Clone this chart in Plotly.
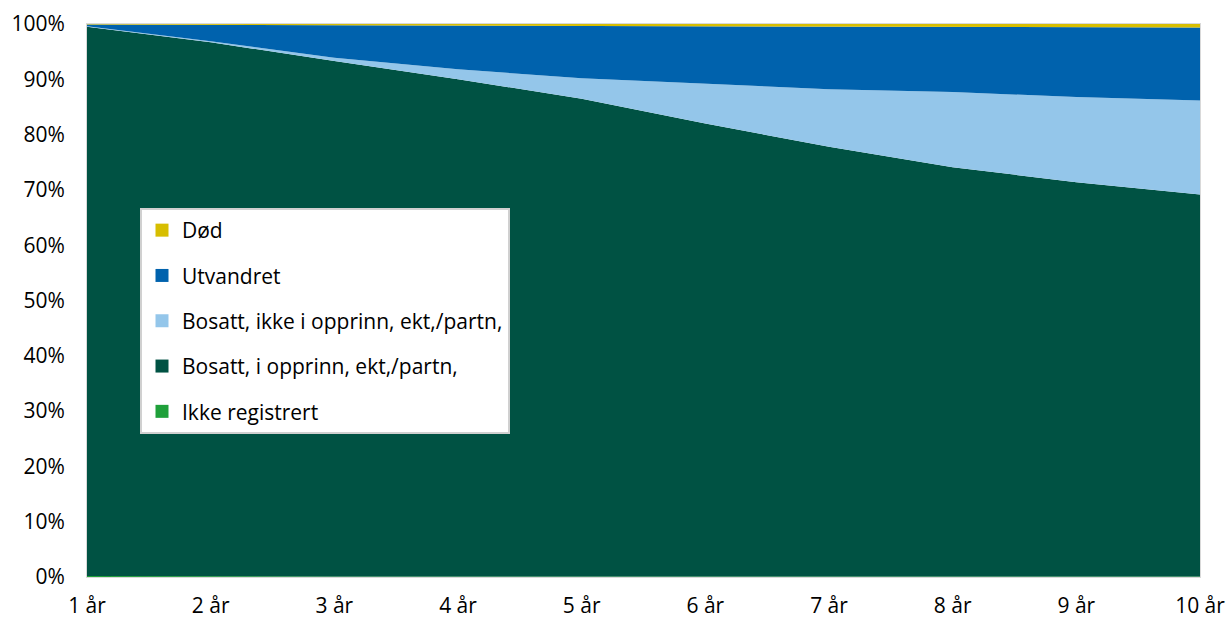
import plotly.graph_objects as go

categories = ["1 år", "2 år", "3 år", "4 år", "5 år", "6 år", "7 år", "8 år", "9 år", "10 år"]
ikke_registrert = [0.2, 0.1, 0.1, 0.1, 0.1, 0.1, 0.1, 0.1, 0.1, 0.1]
bosatt_i = [99.3, 96.6, 93.2, 89.9, 86.4, 81.9, 77.7, 74.0, 71.3, 69.0]
bosatt_ikke = [0.1, 0.2, 0.6, 1.8, 3.7, 7.2, 10.4, 13.6, 15.4, 17.0]
utvandret = [0.3, 2.95, 5.9, 7.95, 9.5, 10.45, 11.4, 11.8, 12.65, 13.15]
dod = [0.1, 0.15, 0.2, 0.25, 0.3, 0.35, 0.4, 0.5, 0.55, 0.65]

series = [
    ("Ikke registrert", ikke_registrert, "#1fa03a"),
    ("Bosatt, i opprinn, ekt,/partn,", bosatt_i, "#005243"),
    ("Bosatt, ikke i opprinn, ekt,/partn,", bosatt_ikke, "#94c6ea"),
    ("Utvandret", utvandret, "#0062ad"),
    ("Død", dod, "#d7be00"),
]

fig = go.Figure()
for name, vals, color in series:
    fig.add_trace(go.Scatter(
        x=categories, y=vals, name=name, stackgroup="one", groupnorm="percent",
        mode="lines", line=dict(width=0, color=color), fillcolor=color,
        showlegend=False, hoverinfo="skip"))
for name, vals, color in reversed(series):
    fig.add_trace(go.Scatter(
        x=[None], y=[None], name=name, mode="markers", legendgroup=name,
        marker=dict(symbol="square", size=13, color=color), showlegend=True))

font = "Open Sans, Noto Sans, sans-serif"
fig.update_layout(
    width=1226, height=618,
    margin=dict(l=87, r=26, t=24, b=41),
    paper_bgcolor="white", plot_bgcolor="white",
    font=dict(family=font, size=21, color="#000000"),
    showlegend=True,
    legend=dict(
        x=(140 - 87) / (1200 - 87), xanchor="left",
        yanchor="top", y=1 - (208 - 24) / 553,
        bgcolor="white", bordercolor="#d0d0d0", borderwidth=2,
        traceorder="grouped", tracegroupgap=15, itemwidth=30,
        font=dict(size=21),
    ),
    xaxis=dict(
        type="category", range=[0, 9], showgrid=False, automargin=False,
        showline=True, linecolor="#d9d9d9", linewidth=1, mirror=True,
        ticks="", ticklabelstandoff=10, tickfont=dict(size=21),
    ),
    yaxis=dict(
        range=[0, 100], dtick=10, ticksuffix="%", showgrid=False, automargin=False,
        showline=True, linecolor="#d9d9d9", linewidth=1, mirror=True,
        ticks="", ticklabelstandoff=17, tickfont=dict(size=21),
        zeroline=False,
    ),
)
fig.write_html(
    "out.html",
    config={"displayModeBar": False},
    post_script="document.body.style.margin='0';document.body.style.overflow='hidden';",
)
